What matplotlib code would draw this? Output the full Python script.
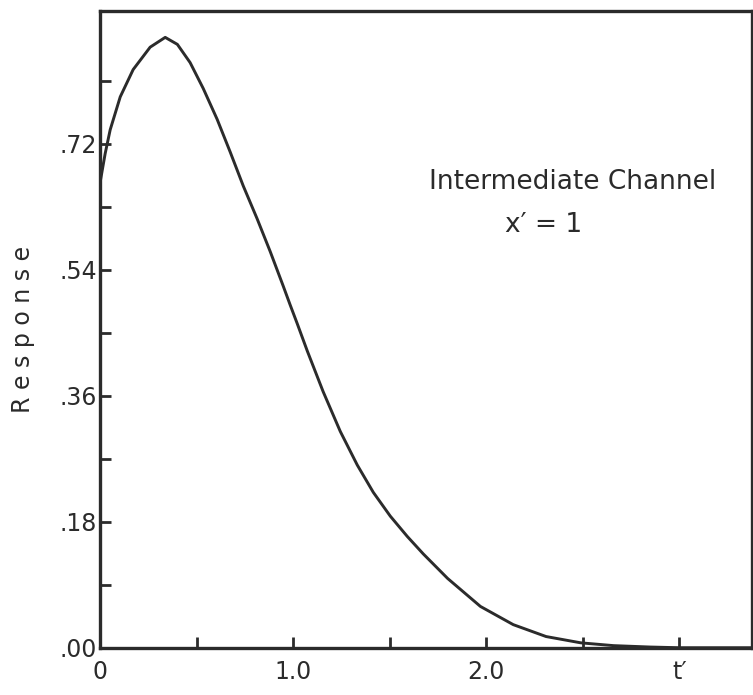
import numpy as np
import matplotlib.pyplot as plt
from matplotlib.ticker import FixedLocator

# values
t = [0.0, 0.026, 0.052, 0.104, 0.171, 0.259, 0.337, 0.40, 0.466, 0.534,
     0.606, 0.674, 0.741, 0.813, 0.881, 0.948, 0.984, 1.021, 1.073, 1.155,
     1.244, 1.332, 1.415, 1.503, 1.591, 1.674, 1.80, 1.97, 2.14, 2.31,
     2.49, 2.66, 2.85, 3.0, 3.38]
resp = [0.665, 0.706, 0.740, 0.787, 0.826, 0.858, 0.872, 0.862, 0.836, 0.799,
        0.755, 0.708, 0.660, 0.613, 0.566, 0.517, 0.490, 0.463, 0.424, 0.366,
        0.309, 0.261, 0.222, 0.188, 0.159, 0.134, 0.099, 0.059, 0.033, 0.016,
        0.007, 0.003, 0.001, 0.0, 0.0]

yticks = [0.0, 0.18, 0.36, 0.54, 0.72]
yminor = [0.09, 0.27, 0.45, 0.63, 0.81]
ylabels = ['.00', '.18', '.36', '.54', '.72']
xticks = [0, 1, 2, 3]
xminor = [0.5, 1.5, 2.5]
xlabels = ['0', '1.0', '2.0', 't\u2032']

ink = '#2b2b2b'
plt.rcParams['font.family'] = ['DejaVu Sans']

fig = plt.figure(figsize=(7.53, 6.95), dpi=100)
ax = fig.add_axes([0.133, 0.068, 0.866, 0.9165])
ax.plot(t, resp, color=ink, lw=2.1, solid_joinstyle='round')

ax.set_xlim(0, 3.378)
ax.set_ylim(0, 0.91)
ax.set_yticks(yticks)
ax.set_yticklabels(ylabels)
ax.yaxis.set_minor_locator(FixedLocator(yminor))
ax.set_xticks(xticks)
ax.set_xticklabels(xlabels)
ax.xaxis.set_minor_locator(FixedLocator(xminor))

ax.tick_params(which='both', direction='in', length=8, width=2, color=ink,
               labelsize=17, labelcolor=ink)
ax.tick_params(axis='y', pad=2)
ax.tick_params(axis='x', pad=9)
for s in ax.spines.values():
    s.set_linewidth(2.4)
    s.set_color(ink)

ax.set_ylabel('R e s p o n s e', fontsize=17, color=ink, labelpad=18)

ax.text(2.446, 0.666, 'Intermediate Channel', fontsize=19, color=ink,
        ha='center', va='center')
ax.text(2.295, 0.604, 'x\u2032 = 1', fontsize=19, color=ink,
        ha='center', va='center')

fig.savefig('out.png', dpi=100)
plt.close()
